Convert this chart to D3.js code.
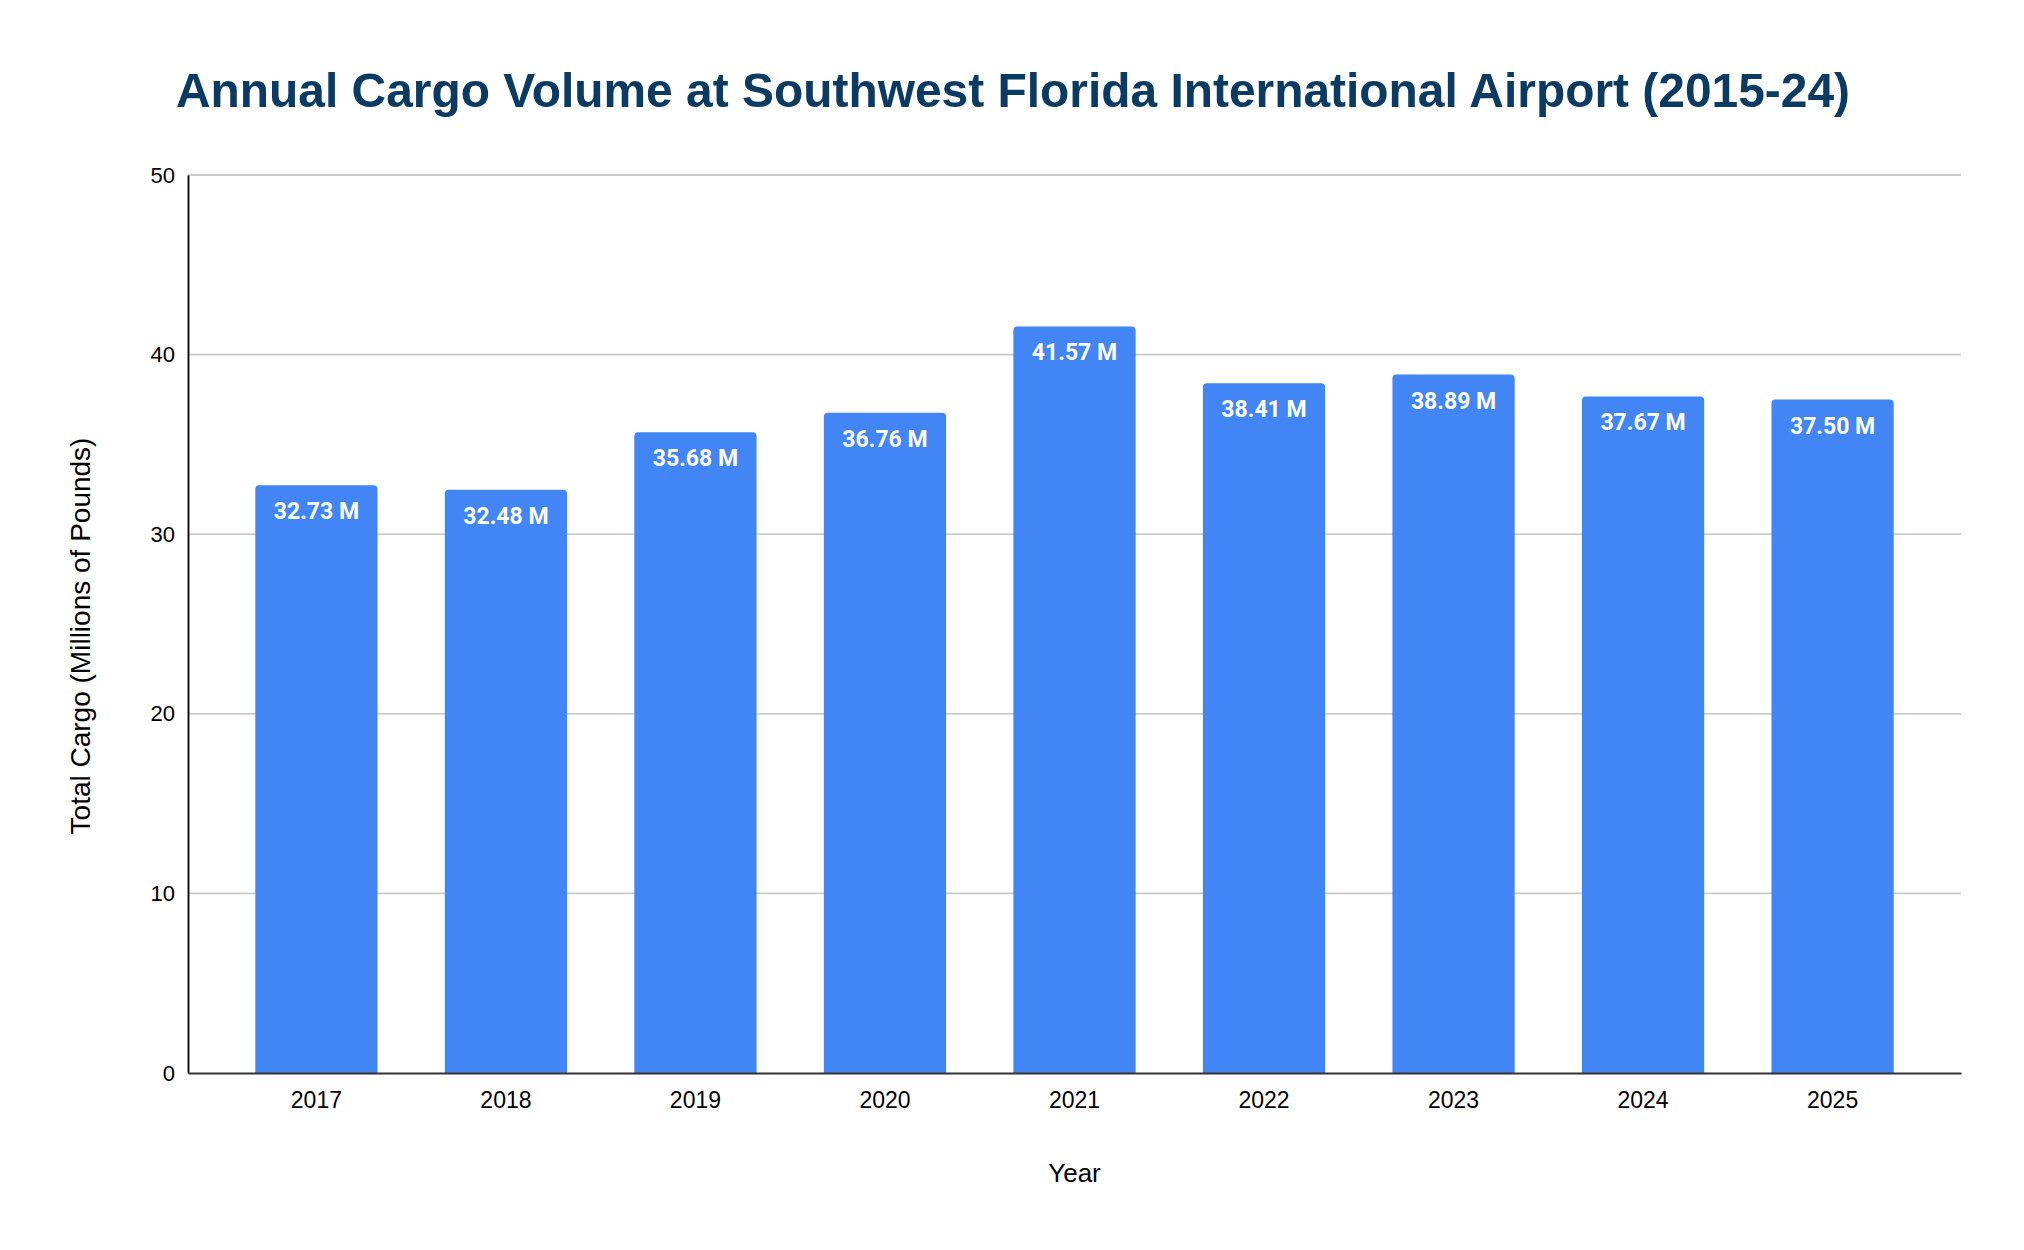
<!DOCTYPE html>
<html>
<head>
<meta charset="utf-8">
<script src="https://cdn.jsdelivr.net/npm/d3@7"></script>
<style>
  html, body { margin: 0; padding: 0; background: #ffffff; }
  svg { display: block; }
</style>
</head>
<body>
<svg id="chart" width="2024" height="1250"></svg>
<script>
const years = ["2017", "2018", "2019", "2020", "2021", "2022", "2023", "2024", "2025"];
const cargo = [32.73, 32.48, 35.68, 36.76, 41.57, 38.41, 38.89, 37.67, 37.50];
const yTicks = [0, 10, 20, 30, 40, 50];
const titleText = "Annual Cargo Volume at Southwest Florida International Airport (2015-24)";
const xTitle = "Year";
const yTitle = "Total Cargo (Millions of Pounds)";

const W = 2024, H = 1250;
const m = { left: 188, right: 2024 - 1961, top: 175, bottom: 1250 - 1073 };
const svg = d3.select("#chart");

const x = d3.scaleBand().domain(years).range([m.left, W - m.right]).paddingInner(0.355).paddingOuter(0.355);
const y = d3.scaleLinear().domain([0, 50]).range([H - m.bottom, m.top]);

// gridlines
svg.append("g")
  .selectAll("line").data(yTicks.filter(d => d > 0)).join("line")
  .attr("x1", m.left).attr("x2", W - m.right)
  .attr("y1", d => y(d)).attr("y2", d => y(d))
  .attr("stroke", "#cccccc").attr("stroke-width", 1.8);

// bars with rounded top corners
const r = 4;
svg.append("g")
  .selectAll("path").data(years).join("path")
  .attr("fill", "#4285f4")
  .attr("d", (d, i) => {
    const x0 = x(d), x1 = x(d) + x.bandwidth();
    const y0 = y(cargo[i]), yb = y(0);
    return `M${x0},${yb} L${x0},${y0 + r} Q${x0},${y0} ${x0 + r},${y0} L${x1 - r},${y0} Q${x1},${y0} ${x1},${y0 + r} L${x1},${yb} Z`;
  });

// data labels
svg.append("g")
  .selectAll("text").data(years).join("text")
  .attr("x", d => x(d) + x.bandwidth() / 2)
  .attr("y", (d, i) => y(cargo[i]) + 34)
  .attr("text-anchor", "middle")
  .attr("fill", "#ffffff")
  .attr("font-family", "Roboto, sans-serif")
  .attr("font-weight", "bold")
  .attr("font-size", 23)
  .text((d, i) => cargo[i].toFixed(2) + " M");

// y axis
const yAxis = svg.append("g")
  .attr("transform", `translate(${m.left},0)`)
  .call(d3.axisLeft(y).tickValues(yTicks).tickSize(0).tickPadding(13));
yAxis.select(".domain").attr("stroke", "#000000").attr("stroke-width", 1.8);
yAxis.selectAll("text")
  .attr("font-family", "'Liberation Sans', Arial, sans-serif")
  .attr("font-size", 22).attr("fill", "#000000");

// x axis
const xAxis = svg.append("g")
  .attr("transform", `translate(0,${H - m.bottom})`)
  .call(d3.axisBottom(x).tickSize(0).tickPadding(19));
xAxis.select(".domain").attr("stroke", "#333333").attr("stroke-width", 2);
xAxis.selectAll("text")
  .attr("font-family", "'Liberation Sans', Arial, sans-serif")
  .attr("font-size", 23).attr("fill", "#000000");

// title
svg.append("text")
  .attr("x", 1013).attr("y", 107)
  .attr("text-anchor", "middle")
  .attr("font-family", "'Liberation Sans', Arial, sans-serif")
  .attr("font-weight", "bold")
  .attr("font-size", 49)
  .attr("textLength", 1674)
  .attr("lengthAdjust", "spacingAndGlyphs")
  .attr("fill", "#0b3a63")
  .text(titleText);

// axis titles
svg.append("text")
  .attr("x", (m.left + W - m.right) / 2).attr("y", 1182)
  .attr("text-anchor", "middle")
  .attr("font-family", "'Liberation Sans', Arial, sans-serif")
  .attr("font-size", 26).attr("fill", "#000000")
  .text(xTitle);

svg.append("text")
  .attr("transform", `translate(90,636) rotate(-90)`)
  .attr("text-anchor", "middle")
  .attr("font-family", "'Liberation Sans', Arial, sans-serif")
  .attr("font-size", 28).attr("fill", "#000000")
  .text(yTitle);
</script>
</body>
</html>
